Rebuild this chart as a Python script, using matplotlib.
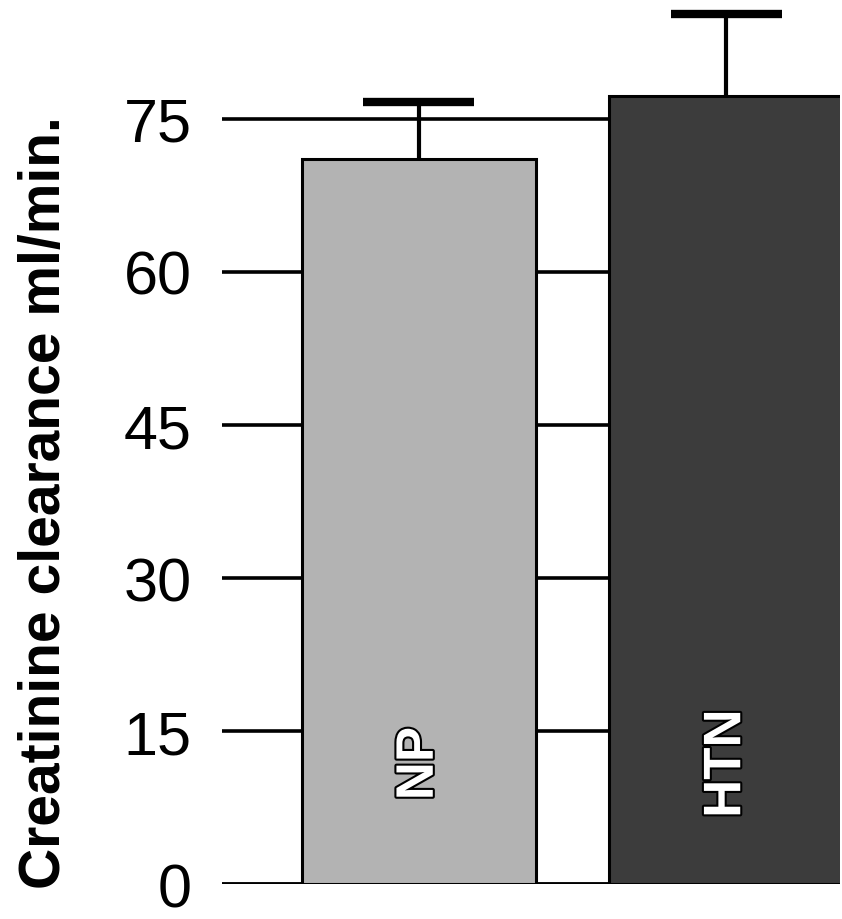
import matplotlib.pyplot as plt
import matplotlib.patheffects as pe
from matplotlib import font_manager

# data
groups = ['NP', 'HTN']
clearance = [71.1, 77.3]
sd_upper = [5.6, 8.0]
bar_colors = ['#b3b3b3', '#3c3c3c']
yticks = [0, 15, 30, 45, 60, 75]

names = {f.name for f in font_manager.fontManager.ttflist}
narrow = 'Liberation Sans Narrow' if 'Liberation Sans Narrow' in names else 'Liberation Sans'

fig = plt.figure(figsize=(8.42, 9.2), dpi=100)
ax = fig.add_axes([0.264, 0.038, 0.734, 0.948])

x = [0, 1]
ax.bar(x, clearance, width=0.76, color=bar_colors, edgecolor='black',
       linewidth=2.2, zorder=2)

# upper error bars only
tops = [c + s for c, s in zip(clearance, sd_upper)]
ax.vlines(x, clearance, tops, color='black', lw=3, zorder=3, clip_on=False)
ax.hlines(tops, [xi - 0.18 for xi in x], [xi + 0.18 for xi in x],
          color='black', lw=6, zorder=3, clip_on=False)

# horizontal rules at each tick
for t in yticks:
    ax.axhline(t, color='black', lw=3.5 if t == 0 else 2.6, zorder=1)

for xi, name in zip(x, groups):
    ax.text(xi, 11.8, name, rotation=90, ha='center', va='center', color='white',
            fontsize=38, fontweight='bold', family=narrow,
            path_effects=[pe.withStroke(linewidth=3, foreground='black')], zorder=4)

ax.set_xlim(-0.639, 1.371)
ax.set_ylim(0, 85.5)
ax.set_xticks([])
ax.set_yticks(yticks)
ax.set_yticklabels([str(t) for t in yticks], family=narrow, fontsize=44)
ax.tick_params(axis='y', length=0, pad=22)
for s in ax.spines.values():
    s.set_visible(False)

fig.text(0.054, 0.454, 'Creatinine clearance ml/min.', rotation=90,
         ha='center', va='center', fontsize=41, fontweight='bold', family=narrow)

fig.savefig('out.png', dpi=100)
plt.close(fig)
